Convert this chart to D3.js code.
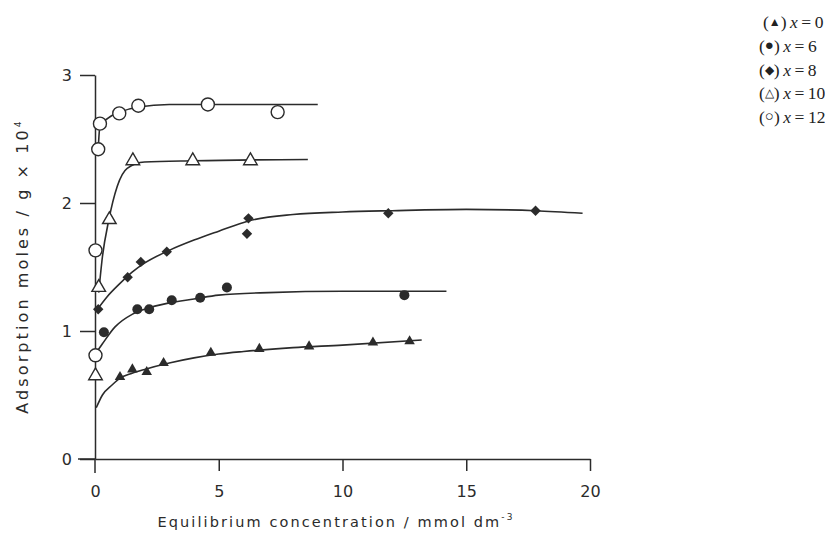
<!DOCTYPE html>
<html>
<head>
<meta charset="utf-8">
<script src="https://cdn.jsdelivr.net/npm/d3@7"></script>
<style>
  body { margin: 0; background: #fff; }
  svg { display: block; }
</style>
</head>
<body>
<svg id="chart" width="825" height="535"></svg>
<script>
// ---------- data ----------
const xTicks = [0, 5, 10, 15, 20];
const yTicks = [0, 1, 2, 3];
const xLabel = "Equilibrium concentration / mmol dm";
const yLabel = "Adsorption moles / g × 10";
const legendSymbols = ["▲", "●", "◆", "△", "○"];
const legendValues = ["0", "6", "8", "10", "12"];

// measured points [concentration, adsorption]
const ptsX0  = [[1.01,0.64],[1.51,0.70],[2.09,0.68],[2.77,0.75],[4.68,0.83],[6.64,0.86],[8.65,0.88],[11.23,0.91],[12.71,0.92]];
const ptsX6  = [[0.36,0.99],[1.71,1.17],[2.19,1.17],[3.10,1.24],[4.25,1.26],[5.33,1.34],[12.5,1.28]];
const ptsX8  = [[0.13,1.17],[1.32,1.42],[1.85,1.54],[2.90,1.62],[6.14,1.76],[6.20,1.88],[11.85,1.92],[17.8,1.94]];
const ptsX10 = [[0.02,0.65],[0.15,1.34],[0.58,1.87],[1.53,2.33],[3.95,2.33],[6.28,2.33]];
const ptsX12 = [[0.02,0.81],[0.02,1.63],[0.13,2.42],[0.20,2.62],[0.98,2.70],[1.75,2.76],[4.56,2.77],[7.38,2.71]];

// fitted curves [concentration, adsorption]
const fitX0  = [[0.05,0.40],[0.3,0.50],[0.7,0.58],[1,0.63],[1.5,0.67],[2,0.70],[3,0.75],[4,0.79],[5,0.82],[6,0.84],[8,0.87],[10,0.89],[13.2,0.93]];
const fitX6  = [[0.05,0.83],[0.3,0.90],[0.8,1.03],[1.5,1.13],[2,1.17],[3,1.22],[4,1.25],[5,1.28],[7,1.30],[10,1.31],[14.2,1.31]];
const fitX8  = [[0.1,1.17],[0.5,1.27],[1,1.37],[1.5,1.46],[2,1.53],[3,1.63],[4,1.71],[5,1.78],[6.2,1.86],[8,1.91],[10,1.93],[12,1.94],[15,1.95],[17.8,1.94],[19.7,1.92]];
const fitX10 = [[0.15,1.30],[0.3,1.58],[0.55,1.86],[0.9,2.13],[1.3,2.27],[2,2.32],[4,2.33],[8.6,2.34]];
const fitX12 = [[0.13,2.42],[0.2,2.60],[0.5,2.66],[1,2.71],[1.75,2.75],[3,2.77],[9.0,2.77]];

// ---------- chart ----------
const svg = d3.select("#chart");
const ink = "#2b2b2b";
const sans = "'DejaVu Sans', 'Liberation Sans', Arial, sans-serif";

const x = d3.scaleLinear().domain([0, 20]).range([95, 590]);
const y = d3.scaleLinear().domain([0, 3]).range([459, 75]);

// extra axis extensions
svg.append("line").attr("x1", x(0)).attr("x2", x(0)).attr("y1", y(0)).attr("y2", y(0) + 14)
  .attr("stroke", ink).attr("stroke-width", 1.5);
svg.append("line").attr("x1", x(0) - 17).attr("x2", x(0)).attr("y1", y(0)).attr("y2", y(0))
  .attr("stroke", ink).attr("stroke-width", 1.5);

const xAxis = svg.append("g").attr("transform", `translate(0,${y(0)})`)
  .call(d3.axisBottom(x).tickValues(xTicks).tickFormat(d3.format("d"))
    .tickSize(12).tickSizeOuter(0).tickPadding(15));
const yAxis = svg.append("g").attr("transform", `translate(${x(0)},0)`)
  .call(d3.axisLeft(y).tickValues(yTicks).tickFormat(d3.format("d"))
    .tickSize(15).tickSizeOuter(0).tickPadding(8));

[xAxis, yAxis].forEach(g => {
  g.select(".domain").attr("stroke", ink).attr("stroke-width", 1.5);
  g.selectAll(".tick line").attr("stroke", ink).attr("stroke-width", 1.5);
  g.selectAll(".tick text").attr("fill", ink)
    .style("font-family", sans).style("font-size", "16px");
});
xAxis.selectAll(".tick").filter(d => d === 0).select("line").remove();

// axis titles
const xt = svg.append("text").attr("x", 336).attr("y", 527).attr("text-anchor", "middle")
  .attr("fill", ink).style("font-family", sans)
  .style("font-size", "14.5px").style("letter-spacing", "2.1px");
xt.append("tspan").text(xLabel);
xt.append("tspan").attr("dy", -7).style("font-size", "9px").text("-3");

const yt = svg.append("text").attr("transform", "translate(28,266) rotate(-90)")
  .attr("text-anchor", "middle").attr("fill", ink)
  .style("font-family", sans)
  .style("font-size", "16px").style("letter-spacing", "3.1px");
yt.append("tspan").text(yLabel);
yt.append("tspan").attr("dy", -7).style("font-size", "9px").text("4");

// curves
const line = d3.line().x(d => x(d[0])).y(d => y(d[1])).curve(d3.curveMonotoneX);
[fitX0, fitX6, fitX8, fitX10, fitX12].forEach(f => {
  svg.append("path").datum(f).attr("d", line)
    .attr("fill", "none").attr("stroke", ink).attr("stroke-width", 1.6);
});

// markers
const tri = d3.symbol().type(d3.symbolTriangle);
const sq = d3.symbol().type(d3.symbolSquare);

svg.append("g").selectAll("path").data(ptsX0).join("path")
  .attr("d", tri.size(48)()).attr("transform", d => `translate(${x(d[0])},${y(d[1])})`)
  .attr("fill", ink);

svg.append("g").selectAll("circle").data(ptsX6).join("circle")
  .attr("cx", d => x(d[0])).attr("cy", d => y(d[1])).attr("r", 5).attr("fill", ink);

svg.append("g").selectAll("path").data(ptsX8).join("path")
  .attr("d", sq.size(54)()).attr("transform", d => `translate(${x(d[0])},${y(d[1])}) rotate(45)`)
  .attr("fill", ink);

svg.append("g").selectAll("path").data(ptsX10).join("path")
  .attr("d", tri.size(80)()).attr("transform", d => `translate(${x(d[0])},${y(d[1])})`)
  .attr("fill", "#fff").attr("stroke", ink).attr("stroke-width", 1.4);

svg.append("g").selectAll("circle").data(ptsX12).join("circle")
  .attr("cx", d => x(d[0])).attr("cy", d => y(d[1])).attr("r", 6.5)
  .attr("fill", "#fff").attr("stroke", ink).attr("stroke-width", 1.4);

// legend
const symSize = ["12px", "15px", "12px", "12px", "15px"];
const lg = svg.append("g");
legendValues.forEach((v, i) => {
  const t = lg.append("text").attr("x", i === 0 ? 763 : 759).attr("y", 28 + i * 23.8)
    .attr("fill", "#222").style("font-family", "'Liberation Serif', 'Times New Roman', serif")
    .style("font-size", "17.5px");
  t.append("tspan").text("(");
  t.append("tspan").style("font-size", symSize[i]).attr("dy", -2).text(legendSymbols[i]);
  t.append("tspan").attr("dy", 2).text(")\u2009");
  t.append("tspan").style("font-style", "italic").text("x");
  t.append("tspan").text("\u2009=\u2009" + v);
});
</script>
</body>
</html>
